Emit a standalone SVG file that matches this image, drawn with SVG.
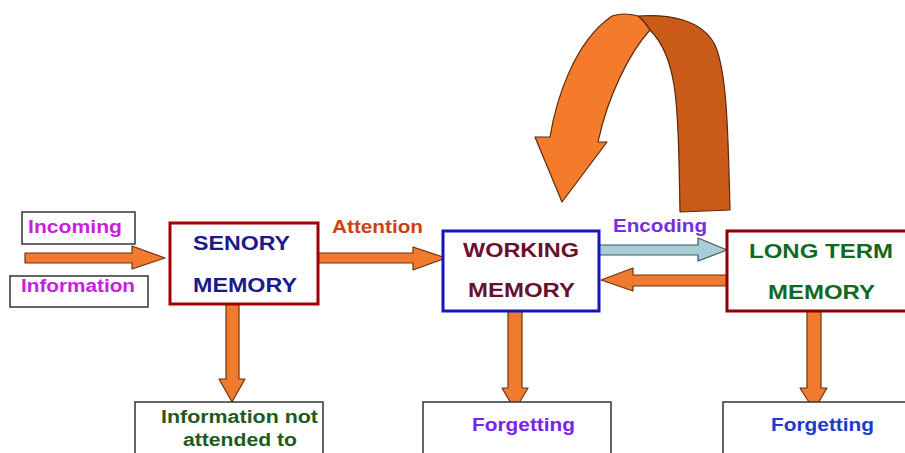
<svg xmlns="http://www.w3.org/2000/svg" width="905" height="453" viewBox="0 0 905 453">
<style>
text{font-family:"Liberation Sans",Arial,sans-serif;font-weight:bold;}
.lbl{font-size:18px;}
.big{font-size:21px;}
.box{fill:#fff;stroke:#333;stroke-width:1.5;}
.arr{fill:#f07a2e;stroke:#6b3410;stroke-width:1.2;stroke-linejoin:round;}
</style>
<rect width="905" height="453" fill="#fff"/>
<g id="connectors">
  <!-- incoming arrow -->
  <path class="arr" d="M25,253 H132 V246 L165,258 L132,269 V263 H25 Z"/>
  <!-- attention arrow -->
  <path class="arr" d="M318,253 H413 V247 L446,258 L413,270 V263 H318 Z"/>
  <!-- encoding arrow -->
  <path d="M599,245 H698 V238 L727,250 L698,261 V255 H599 Z" fill="#a9cdd6" stroke="#3c5860" stroke-width="1.2" stroke-linejoin="round"/>
  <!-- return arrow -->
  <path class="arr" d="M727,275 H633 V268 L601,280 L633,291 V286 H727 Z"/>
  <!-- down arrows -->
  <path class="arr" d="M226,304 V379 H219 L232,402 L245,379 H239 V304 Z"/>
  <path class="arr" d="M508,311 V388 H502 L515,410 L528,388 H522 V311 Z"/>
  <path class="arr" d="M807,311 V388 H800 L814,410 L827,388 H821 V311 Z"/>
  <!-- curved loop arrow -->
  <path d="M638,16 C668,14 702,19 715,45 C726,70 728,120 730,210 L680,212 C679,150 678,110 674,85 C670,60 662,42 650,30 C646,24 642,19 638,16 Z" fill="#c95a18" stroke="#5a2a0a" stroke-width="1.2" stroke-linejoin="round"/>
  <path d="M650,30 C630,52 608,95 598,142 L607,142 L562,202 L535,137 L550,137 C556,100 574,42 612,16 C621,13 631,14 638,16 C642,19 646,24 650,30 Z" fill="#f47a2c" stroke="#5a2a0a" stroke-width="1.2" stroke-linejoin="round"/>
</g>
<g id="incoming">
  <rect class="box" x="22" y="212" width="113" height="32"/>
  <text class="lbl" x="28" y="233" fill="#c81ee0" textLength="94" lengthAdjust="spacingAndGlyphs">Incoming</text>
</g>
<g id="information">
  <rect class="box" x="10" y="276" width="138" height="31"/>
  <text class="lbl" x="21" y="292" fill="#c81ee0" textLength="114" lengthAdjust="spacingAndGlyphs">Information</text>
</g>
<g id="attention-label">
  <text class="lbl" x="332" y="233" fill="#d04010" textLength="91" lengthAdjust="spacingAndGlyphs">Attention</text>
</g>
<g id="encoding-label">
  <text class="lbl" x="613" y="232" fill="#7b2be0" textLength="94" lengthAdjust="spacingAndGlyphs">Encoding</text>
</g>
<g id="sensory-memory">
  <rect x="170" y="223" width="148" height="81" fill="#fff" stroke="#a00000" stroke-width="3"/>
  <text class="big" x="193" y="250" fill="#1a1a8c" textLength="97" lengthAdjust="spacingAndGlyphs">SENORY</text>
  <text class="big" x="193" y="292" fill="#1a1a8c" textLength="104" lengthAdjust="spacingAndGlyphs">MEMORY</text>
</g>
<g id="working-memory">
  <rect x="443" y="231" width="156" height="80" fill="#fff" stroke="#1515c0" stroke-width="3"/>
  <text class="big" x="463" y="257" fill="#6a0f2e" textLength="116" lengthAdjust="spacingAndGlyphs">WORKING</text>
  <text class="big" x="468" y="297" fill="#6a0f2e" textLength="107" lengthAdjust="spacingAndGlyphs">MEMORY</text>
</g>
<g id="long-term-memory">
  <rect x="727" y="231" width="180" height="80" fill="#fff" stroke="#8b0000" stroke-width="3"/>
  <text class="big" x="749" y="258" fill="#0f6a1f" textLength="144" lengthAdjust="spacingAndGlyphs">LONG TERM</text>
  <text class="big" x="768" y="299" fill="#0f6a1f" textLength="107" lengthAdjust="spacingAndGlyphs">MEMORY</text>
</g>
<g id="not-attended">
  <rect class="box" x="135" y="402" width="188" height="60"/>
  <text class="lbl" x="161" y="423" fill="#1e5a22" textLength="157" lengthAdjust="spacingAndGlyphs">Information not</text>
  <text class="lbl" x="183" y="446" fill="#1e5a22" textLength="114" lengthAdjust="spacingAndGlyphs">attended to</text>
</g>
<g id="forgetting-working">
  <rect class="box" x="423" y="402" width="188" height="60"/>
  <text class="lbl" x="472" y="431" fill="#7a22f0" textLength="103" lengthAdjust="spacingAndGlyphs">Forgetting</text>
</g>
<g id="forgetting-long-term">
  <rect class="box" x="723" y="402" width="190" height="60"/>
  <text class="lbl" x="771" y="431" fill="#1a3ad0" textLength="103" lengthAdjust="spacingAndGlyphs">Forgetting</text>
</g>
</svg>
